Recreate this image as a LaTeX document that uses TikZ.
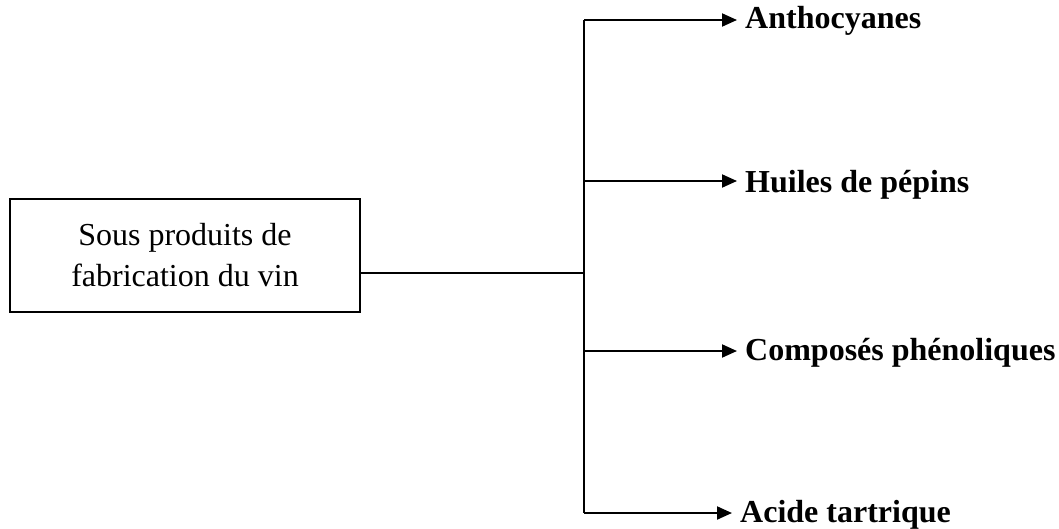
\documentclass[tikz,border=0pt]{standalone}
\usepackage{fontspec}
\setmainfont{Liberation Serif}
\usetikzlibrary{arrows.meta}
\begin{document}
\begin{tikzpicture}[x=1pt,y=-1pt,
  srcbox/.style={draw, line width=1.8pt, minimum width=350pt, minimum height=113pt,
    align=center, inner sep=0pt,
    font=\fontsize{32}{41}\selectfont},
  product/.style={anchor=west, inner xsep=8pt, inner ysep=0pt,
    font=\fontsize{32}{36}\selectfont\bfseries},
  link/.style={line width=2pt},
  feed/.style={line width=2pt, -{Triangle[length=15pt,width=13pt]}}]
\useasboundingbox (0,0) rectangle (1059,528);

% source box
\node[srcbox] (src) at (185,255.5) {Sous produits de\\fabrication du vin};

% trunk and branch points
\coordinate (j0) at (584,273);
\coordinate (b1) at (584,20);
\coordinate (b2) at (584,181);
\coordinate (b3) at (584,351);
\coordinate (b4) at (584,513);

% products
\node[product] (t1) at (737,21)  {Anthocyanes};
\node[product] (t2) at (737,185) {Huiles de pépins};
\node[product] (t3) at (737,353) {Composés phénoliques};
\node[product] (t4) at (732,515) {Acide tartrique};

% connectors
\draw[link] (src.east |- j0) -- (j0);
\draw[link] (b1) -- (b4);
\draw[feed] (b1) -- (b1 -| t1.west);
\draw[feed] (b2) -- (b2 -| t2.west);
\draw[feed] (b3) -- (b3 -| t3.west);
\draw[feed] (b4) -- (b4 -| t4.west);
\end{tikzpicture}
\end{document}
